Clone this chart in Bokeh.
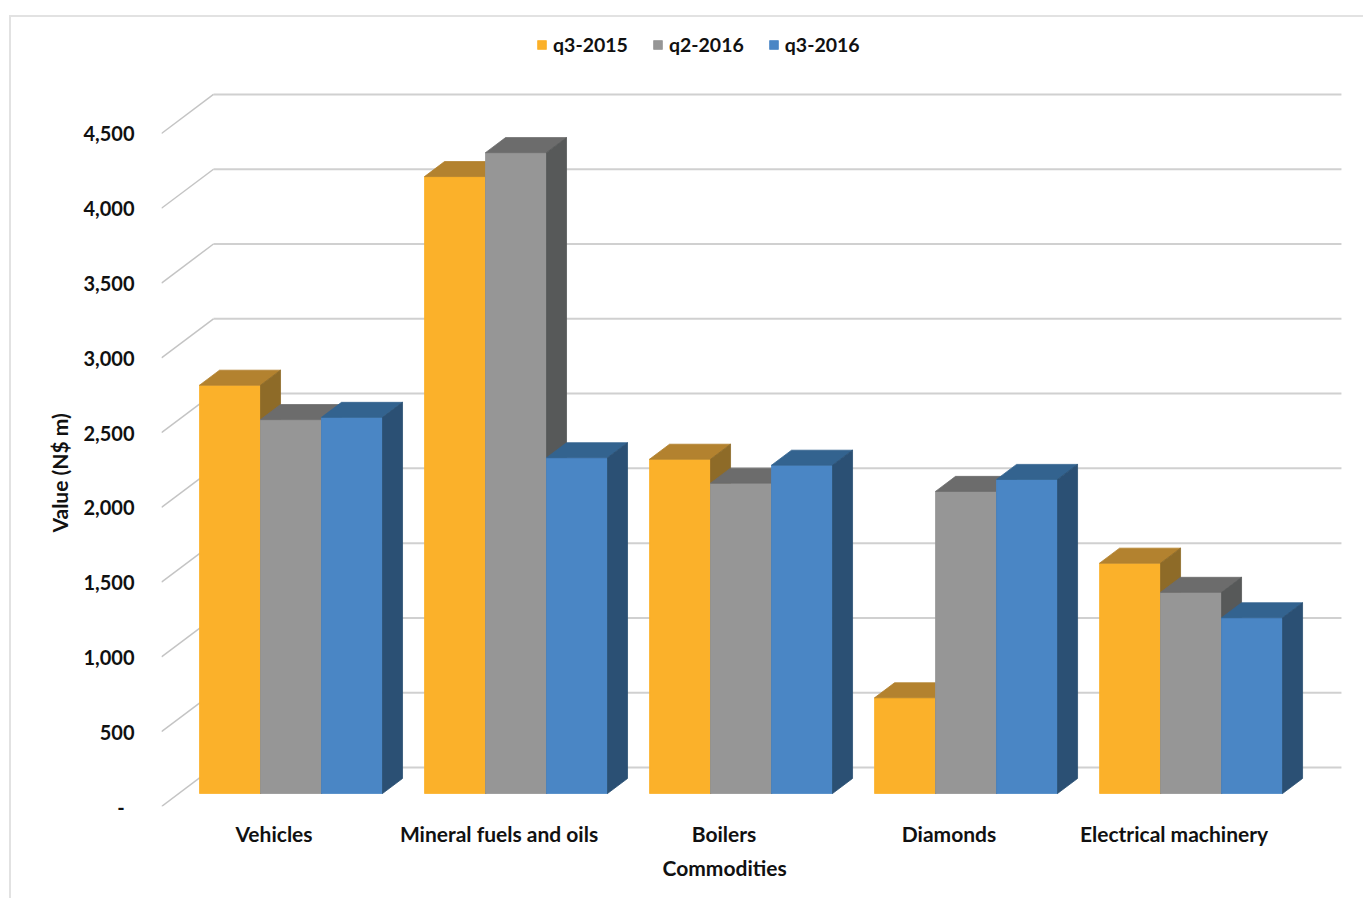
from bokeh.plotting import figure
from bokeh.models import (Range1d, FixedTicker, NumeralTickFormatter, Legend,
                          LegendItem, Title)
from bokeh.embed import file_html
from bokeh.resources import INLINE

# ---- data -------------------------------------------------------------
categories = ["Vehicles", "Mineral fuels and oils", "Boilers", "Diamonds",
              "Electrical machinery"]
series_names = ["q3-2015", "q2-2016", "q3-2016"]
q3_2015 = [2730, 4125, 2235, 640, 1540]
q2_2016 = [2500, 4285, 2075, 2020, 1345]
q3_2016 = [2515, 2245, 2195, 2100, 1175]
y_ticks = [0, 500, 1000, 1500, 2000, 2500, 3000, 3500, 4000, 4500]

# front / top / side shades for each series
front_colors = ["#FBB12A", "#969696", "#4A86C5"]
top_colors = ["#B3822F", "#6C6C6C", "#33638F"]
side_colors = ["#8E6B28", "#575959", "#2B5074"]

FONT = "Lato"
TEXT_COLOR = "#111111"

# ---- oblique 3-D geometry (data units) ------------------------------
X_END = 5.262          # category units visible in the frame
Y_END = 5275.5         # value units visible in the frame
DEPTH_X = 0.231        # floor depth, horizontal component (category units)
DEPTH_Y = 261          # floor depth, vertical component (value units)
WALL_END = 5.244       # right end of the back-wall gridlines
BAR_FRONT = 0.333      # bar front plane, as a fraction of floor depth
BAR_BACK = 0.718       # bar back plane
GROUP_PAD = 0.092      # gap before the first bar of a category
BAR_W = 0.2711         # width of one bar

p = figure(width=1354, height=883,
           x_range=Range1d(0, X_END), y_range=Range1d(0, Y_END),
           output_backend="svg", toolbar_location=None,
           min_border_left=150, min_border_right=20,
           min_border_top=0, min_border_bottom=94)
# thin chart-area border on the left and top edges
p.margin = (15, 0, 0, 9)
p.styles = {"border-left": "2px solid #e2e2e2",
            "border-top": "2px solid #e2e2e2"}
p.grid.visible = False
p.outline_line_color = None
p.background_fill_color = "white"
p.border_fill_color = "white"

# back wall gridlines and the diagonal side-wall strokes
wall_xs, wall_ys, diag_xs, diag_ys = [], [], [], []
for v in y_ticks:
    wall_xs.append([DEPTH_X, WALL_END])
    wall_ys.append([v + DEPTH_Y, v + DEPTH_Y])
    diag_xs.append([0, DEPTH_X])
    diag_ys.append([v, v + DEPTH_Y])
p.multi_line(wall_xs, wall_ys, line_color="#d0d0d0", line_width=2)
p.multi_line(diag_xs, diag_ys, line_color="#c4c4c4", line_width=1.5)

# bars: front, top and side faces
ddx = (BAR_BACK - BAR_FRONT) * DEPTH_X
ddy = (BAR_BACK - BAR_FRONT) * DEPTH_Y
legend_items = []
for s, values in enumerate([q3_2015, q2_2016, q3_2016]):
    fx, fy, tx, ty, sx, sy = [], [], [], [], [], []
    for i, v in enumerate(values):
        xl = i + GROUP_PAD + s * BAR_W + BAR_FRONT * DEPTH_X
        xr = xl + BAR_W
        y0 = BAR_FRONT * DEPTH_Y
        y1 = y0 + v
        fx.append([xl, xr, xr, xl])
        fy.append([y0, y0, y1, y1])
        tx.append([xl, xr, xr + ddx, xl + ddx])
        ty.append([y1, y1, y1 + ddy, y1 + ddy])
        sx.append([xr, xr + ddx, xr + ddx, xr])
        sy.append([y0, y0 + ddy, y1 + ddy, y1])
    r_front = p.patches(fx, fy, fill_color=front_colors[s],
                        line_color=front_colors[s], line_width=0.8)
    p.patches(tx, ty, fill_color=top_colors[s], line_color=top_colors[s],
              line_width=0.8)
    p.patches(sx, sy, fill_color=side_colors[s], line_color=side_colors[s],
              line_width=0.8)
    legend_items.append(LegendItem(label=series_names[s], renderers=[r_front]))

legend = Legend(items=legend_items, orientation="horizontal",
                location=(375, 750), glyph_width=11, glyph_height=11,
                label_standoff=6, spacing=24, padding=0, margin=0,
                border_line_color=None, background_fill_alpha=0,
                label_text_font=FONT, label_text_font_style="bold",
                label_text_font_size="19.5px", label_text_color=TEXT_COLOR)
p.add_layout(legend)

# value axis
ya = p.yaxis[0]
ya.ticker = FixedTicker(ticks=y_ticks)
ya.formatter = NumeralTickFormatter(format="0,0")
ya.major_label_overrides = {0: "-\u00a0\u00a0"}
ya.axis_line_color = None
ya.major_tick_line_color = None
ya.minor_tick_line_color = None
ya.major_tick_out = 0
ya.major_tick_in = 0
ya.major_label_standoff = 27
ya.major_label_text_font = FONT
ya.major_label_text_font_style = "bold"
ya.major_label_text_font_size = "20px"
ya.major_label_text_color = TEXT_COLOR

# category axis
xa = p.xaxis[0]
xa.ticker = FixedTicker(ticks=[i + 0.5 for i in range(len(categories))])
xa.major_label_overrides = {i + 0.5: c for i, c in enumerate(categories)}
xa.axis_line_color = None
xa.major_tick_line_color = None
xa.minor_tick_line_color = None
xa.major_tick_out = 0
xa.major_tick_in = 0
xa.major_label_standoff = 14
xa.major_label_text_font = FONT
xa.major_label_text_font_style = "bold"
xa.major_label_text_font_size = "21px"
xa.major_label_text_color = TEXT_COLOR

# axis titles
x_title = Title(text="Commodities", align="left", offset=501, standoff=8,
                text_font=FONT, text_font_style="bold",
                text_font_size="21px", text_color=TEXT_COLOR)
p.add_layout(x_title, "below")
y_title = Title(text="Value (N$ m)", align="left", offset=274, standoff=17,
                text_font=FONT, text_font_style="bold",
                text_font_size="21px", text_color=TEXT_COLOR)
p.add_layout(y_title, "left")

open("out.html", "w").write(file_html(p, INLINE))
